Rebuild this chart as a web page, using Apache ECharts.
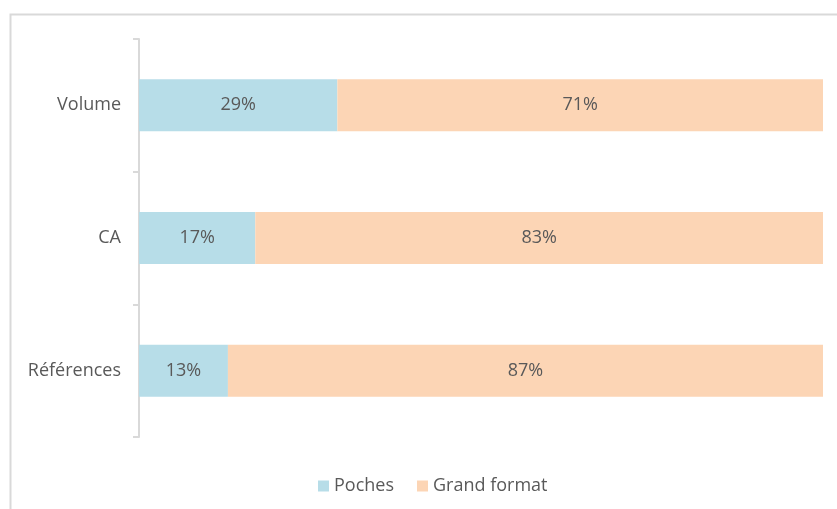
<!DOCTYPE html>
<html>
<head>
<meta charset="utf-8">
<script src="https://cdn.jsdelivr.net/npm/echarts@6/dist/echarts.min.js"></script>
<style>
  html, body { margin: 0; padding: 0; background: #fff; }
  #chart { width: 837px; height: 509px; }
</style>
</head>
<body>
<div id="chart"></div>
<script>
var categories = ['Volume', 'CA', 'Références'];
var seriesNames = ['Poches', 'Grand format'];
var pochesData = [29, 17, 13];
var grandFormatData = [71, 83, 87];

var myChart = echarts.init(document.getElementById('chart'));
var textColor = '#595959';
var lineColor = '#d9d9d9';
var fontFamily = '"Open Sans", "Noto Sans", sans-serif';
var fontSize = 18;

var option = {
    backgroundColor: '#fff',
    animation: false,
    graphic: [{
        type: 'rect',
        left: 8,
        top: 12,
        shape: { width: 900, height: 600 },
        style: { fill: 'none', stroke: lineColor, lineWidth: 2 }
    }],
    legend: {
        bottom: 9,
        left: 313,
        itemWidth: 11,
        itemHeight: 11,
        itemGap: 23,
        icon: 'rect',
        textStyle: { color: textColor, fontSize: fontSize, fontFamily: fontFamily },
        data: seriesNames
    },
    grid: {
        left: 139,
        right: 14,
        top: 39,
        bottom: 72,
        containLabel: false
    },
    xAxis: {
        type: 'value',
        min: 0,
        max: 100,
        show: false
    },
    yAxis: {
        type: 'category',
        inverse: true,
        data: categories,
        axisLine: { show: true, lineStyle: { color: lineColor, width: 2 } },
        axisTick: { show: true, length: 6, lineStyle: { color: lineColor, width: 2 } },
        axisLabel: { color: textColor, fontSize: fontSize, fontFamily: fontFamily, margin: 18 }
    },
    series: [{
        name: seriesNames[0],
        type: 'bar',
        stack: 'total',
        barWidth: 52,
        itemStyle: { color: '#b7dde8' },
        label: {
            show: true,
            position: 'inside',
            color: textColor,
            fontSize: fontSize,
            fontFamily: fontFamily,
            formatter: '{c}%'
        },
        data: pochesData
    }, {
        name: seriesNames[1],
        type: 'bar',
        stack: 'total',
        barWidth: 52,
        itemStyle: { color: '#fcd5b5' },
        label: {
            show: true,
            position: 'inside',
            color: textColor,
            fontSize: fontSize,
            fontFamily: fontFamily,
            formatter: '{c}%'
        },
        data: grandFormatData
    }]
};

myChart.setOption(option);
window.addEventListener('resize', function () {
    myChart.resize();
});
</script>
</body>
</html>
